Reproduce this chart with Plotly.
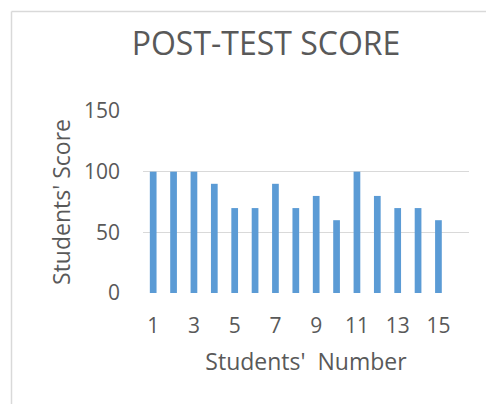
import plotly.graph_objects as go

students = list(range(1, 16))
scores = [100, 100, 100, 90, 70, 70, 90, 70, 80, 60, 100, 80, 70, 70, 60]
x_ticks = [1, 3, 5, 7, 9, 11, 13, 15]
y_ticks = [0, 50, 100, 150]

W, H = 486, 404
L, T = 143, 111
R, B = W - 469, H - 293
pw, ph = W - L - R, H - T - B

def px(x):
    return (x - L) / pw

def py(y):
    return (H - B - y) / ph

frame = dict(color="#D9D9D9", width=1.5)

fig = go.Figure(go.Bar(x=students, y=scores, marker=dict(color="#5B9BD5", line=dict(width=0)), width=0.33))

fig.update_layout(
    width=W, height=H,
    margin=dict(l=L, r=R, t=T, b=B, autoexpand=False),
    paper_bgcolor="white", plot_bgcolor="white",
    font=dict(family="Open Sans", color="#595959"),
    showlegend=False,
    title=dict(text="POST-TEST SCORE", xref="container", x=266 / W, xanchor="center",
               yref="container", y=1 - 44 / H, yanchor="middle",
               font=dict(size=32, color="#595959")),
    shapes=[
        dict(type="line", xref="paper", yref="paper", x0=px(11.5), x1=px(W), y0=py(11.5), y1=py(11.5),
             line=frame, layer="below"),
        dict(type="line", xref="paper", yref="paper", x0=px(11.5), x1=px(11.5), y0=py(11.5), y1=py(H),
             line=frame, layer="below"),
    ],
)
fig.update_xaxes(range=[0.5, 16.5], tickvals=x_ticks, ticktext=[str(v) for v in x_ticks],
                 showgrid=False, zeroline=False, showline=False, ticks="", automargin=False,
                 ticklabelstandoff=18, tickfont=dict(size=21),
                 title=dict(text="Students'\u00a0 Number", font=dict(size=23), standoff=15))
fig.update_yaxes(range=[0, 150], tickvals=y_ticks, showgrid=True, gridcolor="#D9D9D9", gridwidth=1,
                 zeroline=False, showline=False, ticks="", automargin=False,
                 ticklabelstandoff=22, tickfont=dict(size=21),
                 title=dict(text="Students' Score", font=dict(size=23), standoff=6))

fig.write_html("out.html", config={"displayModeBar": False},
               post_script="document.body.style.margin='0';document.body.style.overflow='hidden';")
